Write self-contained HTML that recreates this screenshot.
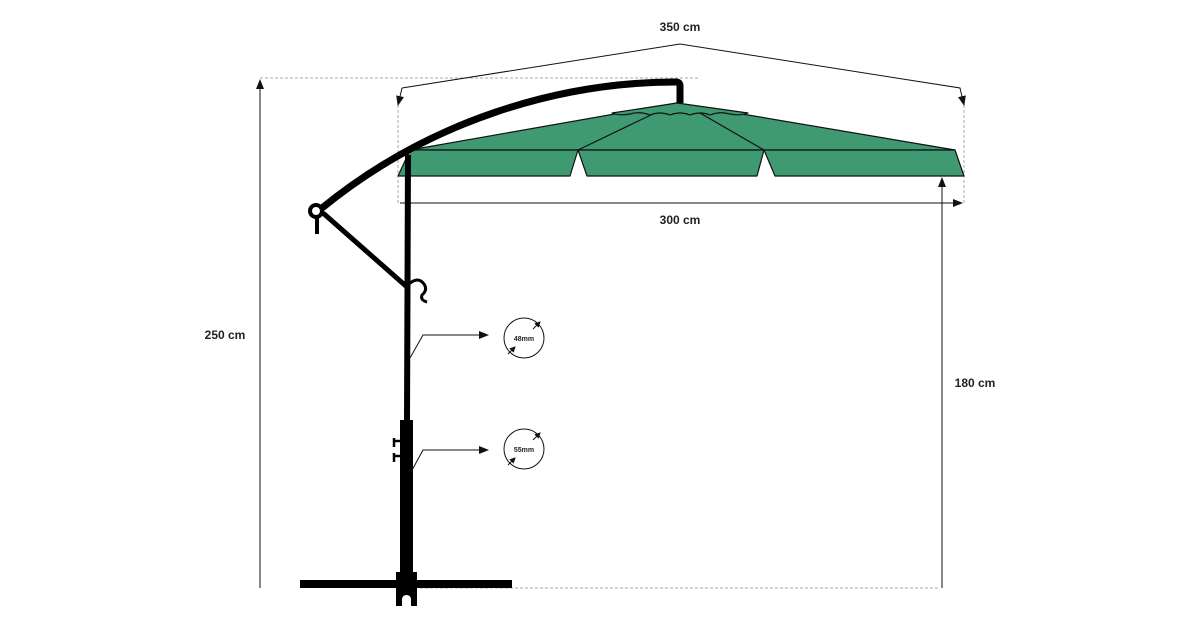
<!DOCTYPE html>
<html><head><meta charset="utf-8"><style>
html,body{margin:0;padding:0;background:#fff;}
svg{display:block;}
text{font-family:"Liberation Sans",sans-serif;font-weight:bold;fill:#222;}
</style></head><body>
<svg width="1200" height="630" viewBox="0 0 1200 630" xmlns="http://www.w3.org/2000/svg">
<defs>
<marker id="ar" markerWidth="10" markerHeight="8" refX="9" refY="4" orient="auto" markerUnits="userSpaceOnUse"><path d="M0,0 L10,4 L0,8 Z" fill="#111"/></marker>
<marker id="sa" markerWidth="6" markerHeight="6" refX="5" refY="3" orient="auto" markerUnits="userSpaceOnUse"><path d="M0,0 L6,3 L0,6 Z" fill="#111"/></marker>
</defs>
<g stroke="#aaa" stroke-width="1" stroke-dasharray="3,2" fill="none">
<line x1="260" y1="78" x2="700" y2="78"/>
<line x1="420" y1="588" x2="940" y2="588"/>
<line x1="398" y1="105" x2="398" y2="203"/>
<line x1="964" y1="105" x2="964" y2="203"/>
</g>
<g stroke="#111" stroke-width="1" fill="none">
<polyline points="402,88 680,44 960,88 964,105" marker-end="url(#ar)"/>
<polyline points="402,88 398,105" marker-end="url(#ar)"/>
<line x1="400" y1="203" x2="962" y2="203" marker-end="url(#ar)"/>
<line x1="260" y1="588" x2="260" y2="80" marker-end="url(#ar)"/>
<line x1="942" y1="588" x2="942" y2="178" marker-end="url(#ar)"/>
</g>
<text x="680" y="31" font-size="12" text-anchor="middle">350 cm</text>
<text x="680" y="224" font-size="12" text-anchor="middle">300 cm</text>
<text x="225" y="339" font-size="12" text-anchor="middle">250 cm</text>
<text x="975" y="387" font-size="12" text-anchor="middle">180 cm</text>
<g fill="#3f9a72" stroke="#111" stroke-width="1.2" stroke-linejoin="round">
<polygon points="410,150 677,103 955,150"/>
<polygon points="410,150 578,150 570,176 398,176"/>
<polygon points="578,150 764,150 757,176 587,176"/>
<polygon points="764,150 955,150 964,176 775,176"/>
<line x1="655" y1="113" x2="578" y2="150"/>
<line x1="700" y1="113" x2="764" y2="150"/>
<path d="M612,113 L677,103 L748,113 Q740,116 730,114 Q720,111 710,115 Q700,111 690,115 Q680,111 670,115 Q660,111 650,115 Q640,111 630,114 Q620,116 612,113 Z"/>
</g>
<g stroke="#000" fill="none" stroke-linecap="butt">
<path d="M680,103 L680,86 Q680,82 676,82 C560,82 430,120 322,208" stroke-width="7"/>
<line x1="408" y1="155" x2="407" y2="420" stroke-width="6"/>
<line x1="323" y1="213" x2="407" y2="287" stroke-width="5"/>
<line x1="317" y1="216" x2="317" y2="234" stroke-width="4"/>
<path d="M409,284 Q418,276 424,284 Q428,290 422,295 Q420,300 427,302" stroke-width="3"/>
</g>
<circle cx="316" cy="211" r="6" fill="#fff" stroke="#000" stroke-width="4"/>
<rect x="400" y="420" width="13" height="155" fill="#000"/>
<rect x="300" y="580" width="212" height="8" fill="#000"/>
<path d="M396,572 H417 V606 H411 V600 Q411,595 406.5,595 Q402,595 402,600 V606 H396 Z" fill="#000"/>
<g stroke="#000" stroke-width="2.5">
<line x1="394" y1="438" x2="394" y2="447"/><line x1="394" y1="441" x2="401" y2="441"/>
<line x1="394" y1="453" x2="394" y2="462"/><line x1="394" y1="456" x2="401" y2="456"/>
</g>
<g stroke="#111" stroke-width="1" fill="none">
<polyline points="410,358 423,335 488,335" marker-end="url(#ar)"/>
<polyline points="411,472 423,450 488,450" marker-end="url(#ar)"/>
<circle cx="524" cy="338" r="20"/>
<circle cx="524" cy="449" r="20"/>
<line x1="508" y1="354" x2="515" y2="347" marker-end="url(#sa)"/>
<line x1="533" y1="329" x2="540" y2="322" marker-end="url(#sa)"/>
<line x1="508" y1="465" x2="515" y2="458" marker-end="url(#sa)"/>
<line x1="533" y1="440" x2="540" y2="433" marker-end="url(#sa)"/>
</g>
<text x="524" y="341" font-size="7" text-anchor="middle">48mm</text>
<text x="524" y="452" font-size="7" text-anchor="middle">55mm</text>
</svg>
</body></html>
